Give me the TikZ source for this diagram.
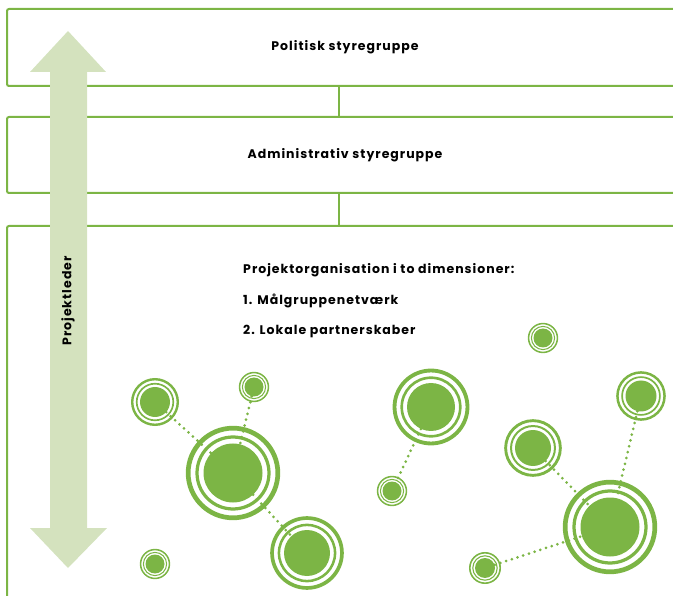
\documentclass[tikz,border=0pt]{standalone}
\usepackage{fontspec}
\setmainfont{Poppins}[LetterSpace=8]
\usepackage{tikz}
\usetikzlibrary{positioning}
\usepackage{xcolor}
\definecolor{leafgreen}{RGB}{124,181,69}
\definecolor{palegreen}{RGB}{212,226,190}
\tikzset{>=stealth}
\tikzset{%
    tier/.style={draw=leafgreen, line width=2pt, rounded corners=2pt,
        minimum width=676pt, inner sep=0pt, font=\bfseries\fontsize{12.5}{14}\selectfont},
    tierline/.style={draw=leafgreen, line width=2pt},
    label/.style={inner sep=0pt, font=\bfseries\fontsize{12.5}{14}\selectfont},
    hubdisc/.style={circle, fill=leafgreen, inner sep=0pt},
    hubring/.style={draw=leafgreen},
    linkdots/.style={leafgreen, line width=3pt, line cap=round, dash pattern=on 0pt off 6pt}
}
% disc with two rings: name, x, y, radius
\newcommand{\hub}[4]{%
    \node[hubdisc, minimum size={2*#4pt}] (#1) at (#2,#3) {};
    \draw[hubring, line width={0.11*#4pt}] (#1.center) circle ({1.22*#4});
    \draw[hubring, line width={0.16*#4pt}] (#1.center) circle ({1.52*#4});
}

\begin{document}
\begin{tikzpicture}[x=1pt,y=-1pt]
    \useasboundingbox (0,0) rectangle (673,596);
    \clip (0,0) rectangle (673,596);
    % the three levels
    \node[tier, minimum height=77pt] (politisk) at (345,47.5) {Politisk styregruppe};
    \node[tier, minimum height=76pt] (admin) at (345,155) {Administrativ styregruppe};
    \node[tier, minimum height=394pt] (projekt) at (345,423) {};
    \draw[tierline] ([xshift=-6pt]politisk.south) -- ([xshift=-6pt]admin.north);
    \draw[tierline] ([xshift=-6pt]admin.south) -- ([xshift=-6pt]projekt.north);
    % project leader arrow
    \fill[palegreen] (50,72) -- (30,72) -- (68,31) -- (106,72) -- (87,72)
        -- (87,528) -- (107,528) -- (68,568) -- (30,528) -- (50,528) -- cycle;
    \node[label, rotate=90] (leder) at (68,301) {Projektleder};
    % text in the project box
    \node[label, anchor=west] (dim) at (243,270) {Projektorganisation i to dimensioner:};
    \node[label, anchor=west] (maal) at (243,301) {1. Målgruppenetværk};
    \node[label, anchor=west] (lokal) at (243,332) {2. Lokale partnerskaber};
    % first network
    \hub{a}{155}{402}{15}
    \hub{b}{233}{473}{29.5}
    \hub{c}{254}{387}{9.5}
    \hub{d}{307}{553}{23}
    \hub{e}{155}{564}{9.5}
    \draw[linkdots] (a) -- (b);
    \draw[linkdots] (c) -- (b);
    \draw[linkdots] (b) -- (d);
    % second network
    \hub{f}{543}{338}{9.5}
    \hub{g}{431}{407}{24}
    \hub{h}{392}{491}{9.5}
    \hub{i}{533}{448}{18}
    \hub{j}{641}{396}{15.5}
    \hub{k}{610}{527}{29.5}
    \hub{l}{485}{568}{10}
    \draw[linkdots] (g) -- (h);
    \draw[linkdots] (i) -- (k);
    \draw[linkdots] (j) -- (k);
    \draw[linkdots] (l) -- (k);
\end{tikzpicture}
\end{document}
